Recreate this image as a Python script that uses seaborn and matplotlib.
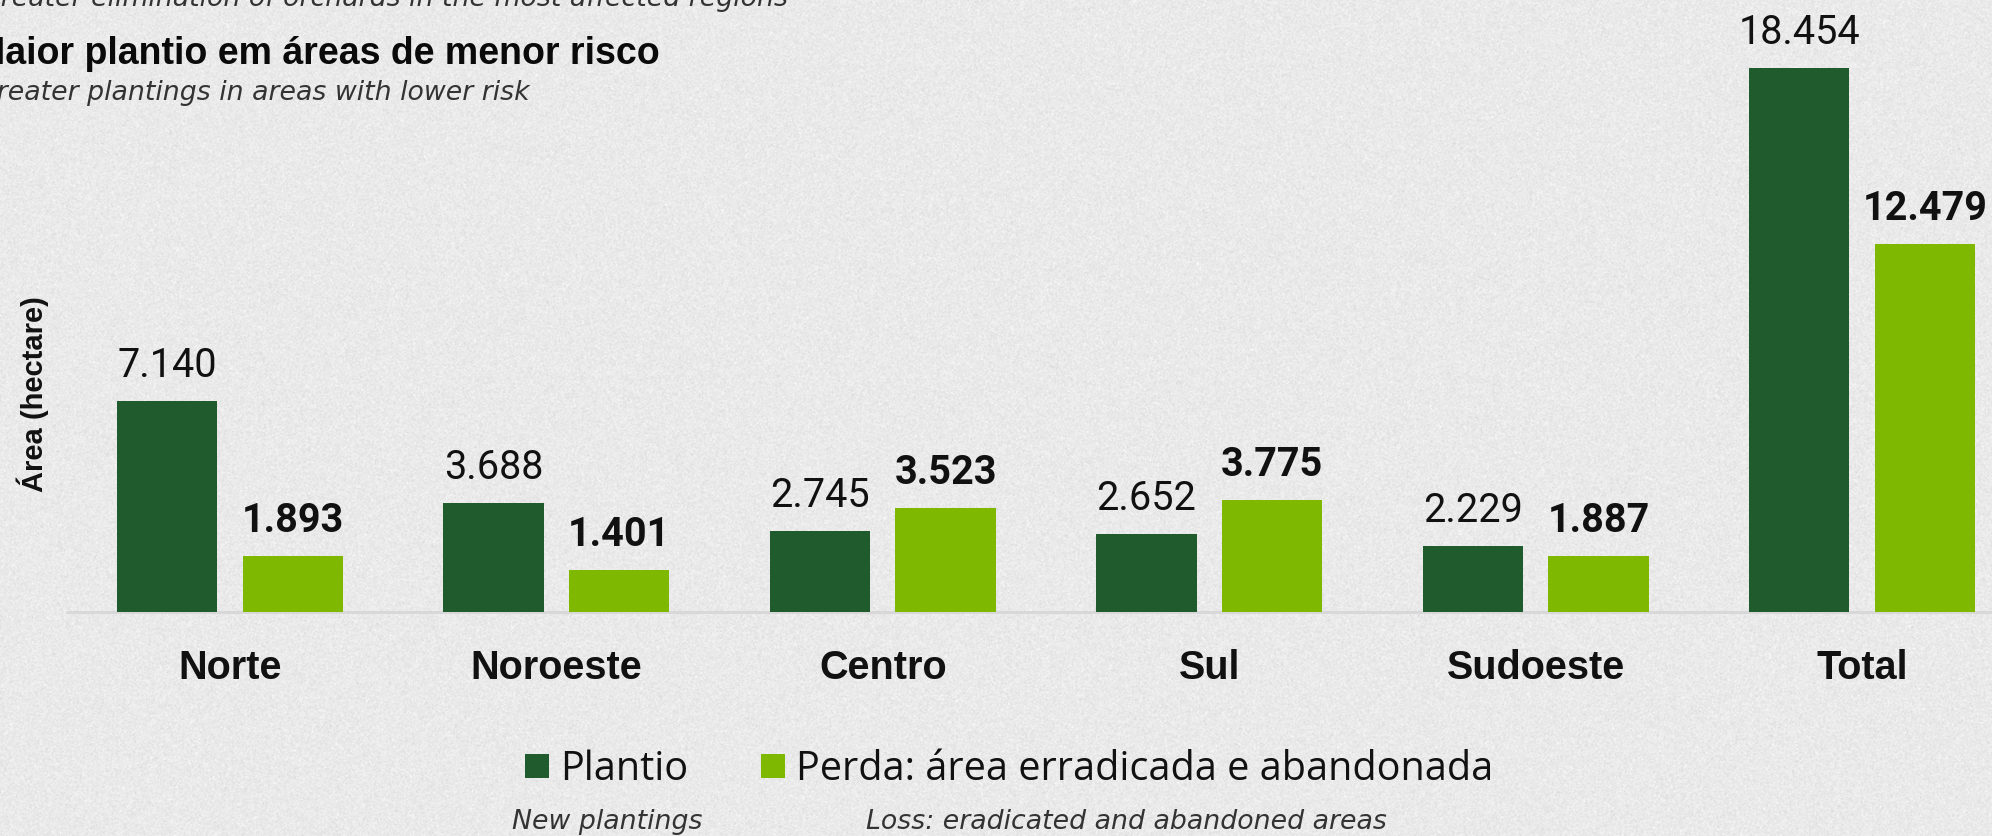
import numpy as np
import pandas as pd
import matplotlib
matplotlib.use("Agg")
import matplotlib.pyplot as plt
from matplotlib.patches import Patch
import seaborn as sns

# --- data -------------------------------------------------------------
regions = ["Norte", "Noroeste", "Centro", "Sul", "Sudoeste", "Total"]
plantio = [7140, 3688, 2745, 2652, 2229, 18454]
perda = [1893, 1401, 3523, 3775, 1887, 12479]
series = ["Plantio", "Perda: área erradicada e abandonada"]
series_en = ["New plantings", "Loss: eradicated and abandoned areas"]
colors = ["#1F5B2D", "#7FB800"]

prev_subtitle = "Greater elimination of orchards in the most affected regions"
title = "Maior plantio em áreas de menor risco"
subtitle = "Greater plantings in areas with lower risk"
ylabel = "Área (hectare)"

# --- figure -----------------------------------------------------------
W, H, DPI = 1992, 836, 100
sns.set_theme(style="white")
plt.rcParams["font.family"] = ["Roboto", "DejaVu Sans"]

HEAD = ["Liberation Sans", "DejaVu Sans"]
ITAL = ["DejaVu Sans"]
LEG = ["Open Sans", "DejaVu Sans"]

bg = "#eaeaea"
fig = plt.figure(figsize=(W / DPI, H / DPI), dpi=DPI, facecolor=bg)


def fx(px):
    return px / W


def fy(py):
    return 1 - py / H


# paper-like grain behind everything
rng = np.random.default_rng(11)
n = rng.normal(size=(H, W))
k = (n + np.roll(n, 1, 0) + np.roll(n, 1, 1) + np.roll(np.roll(n, 1, 0), 1, 1)) / 2
g = (234 + 3.4 * k + 1.6 * rng.normal(size=(H, W))) / 255
tex = np.clip(np.dstack([g, g, g]), 0, 1)
fig.figimage(tex, xo=0, yo=0, zorder=-10)

ax = fig.add_axes([0, 0, 1, 1])
ax.set_facecolor("none")

df = pd.DataFrame({
    "Região": regions * 2,
    "Série": [series[0]] * len(regions) + [series[1]] * len(regions),
    "Área": plantio + perda,
})

sns.barplot(
    data=df, x="Região", y="Área", hue="Série",
    order=regions, hue_order=series, palette=colors,
    width=0.77, gap=0.2, saturation=1, linewidth=0,
    errorbar=None, legend=False, ax=ax, zorder=2,
)

# pixel-mapped axes: group spacing 326.4 px, first group at x=230 px,
# zero line at y=611.7 px, 0.02946 px per hectare
ax.set_xlim(-230 / 326.4, (W - 230) / 326.4)
ax.set_ylim(-(H - 611.7) / 0.02946, 611.7 / 0.02946)
ax.axis("off")

ax.axhline(0, xmin=67 / W, xmax=1, color="#d8d8d8", lw=2.2, zorder=1)


def fmt(v):
    return f"{v:,}".replace(",", ".")


# value labels above each bar
for container, weight in zip(ax.containers, ["normal", "bold"]):
    for bar in container:
        h = bar.get_height()
        ax.annotate(
            fmt(int(round(h))),
            (bar.get_x() + bar.get_width() / 2, h),
            xytext=(0, 17.3), textcoords="offset points",
            ha="center", va="baseline", fontsize=28.5,
            fontweight=weight, color="#111111",
        )

# category names under the zero line
for i, r in enumerate(regions):
    ax.annotate(
        r, (i, 0), xytext=(0, -48.5), textcoords="offset points",
        ha="center", va="baseline", fontsize=28.5, fontweight="bold",
        family=HEAD, color="#111111",
    )

# header block (starts left of the visible canvas)
fig.text(fx(788), fy(6), prev_subtitle, ha="right", va="baseline",
         fontsize=19.3, style="italic", family=ITAL, color="#333333")
fig.text(fx(660), fy(64), title, ha="right", va="baseline",
         fontsize=27.0, fontweight="bold", family=HEAD, color="#0a0a0a")
fig.text(fx(530), fy(100), subtitle, ha="right", va="baseline",
         fontsize=19.3, style="italic", family=ITAL, color="#333333")

fig.text(fx(33), fy(394), ylabel, rotation=90, ha="center", va="center",
         fontsize=21, fontweight="bold", family=HEAD, color="#111111")

# legend with English captions below each entry
handles = [Patch(facecolor=c, edgecolor="none") for c in colors]
leg = ax.legend(
    handles, series, loc="center",
    bbox_to_anchor=(fx(1009), fy(770)), bbox_transform=fig.transFigure,
    ncol=2, frameon=False, prop={"family": LEG, "size": 28.5},
    handlelength=0.6, handleheight=0.55, handletextpad=0.28,
    columnspacing=1.85, borderpad=0, borderaxespad=0,
)
for t in leg.get_texts():
    t.set_color("#111111")

for cx, cap in zip([607, 1126], series_en):
    fig.text(fx(cx), fy(829), cap, ha="center", va="baseline",
             fontsize=19.3, style="italic", family=ITAL, color="#333333")

fig.savefig("out.png", dpi=DPI, facecolor=bg)
